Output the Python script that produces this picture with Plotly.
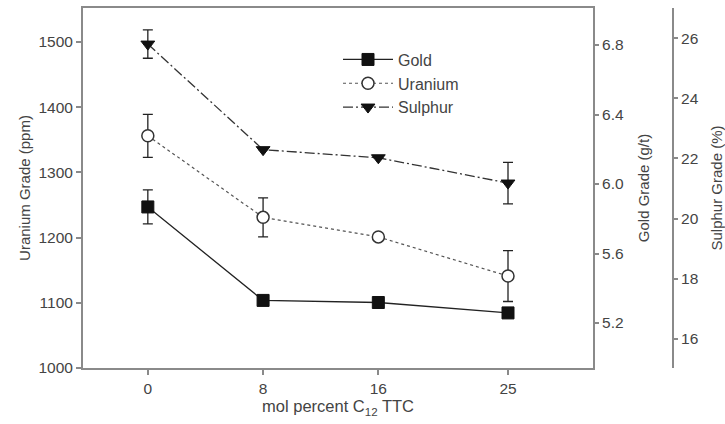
import plotly.graph_objects as go

x_vals = [0, 8, 16, 25]
x_ticks = [0, 8, 16, 25]

gold = [5.868, 5.330, 5.318, 5.258]
gold_err = [0.098, None, None, None]

uranium = [1356, 1231, 1201, 1141]
uranium_err = [33, 30, None, 39]

sulphur = [25.8, 22.29, 22.02, 21.18]
sulphur_err = [0.47, None, None, 0.69]

FONT = "Liberation Sans, Arial, sans-serif"
TXT = "#444444"
AX = "#8a8a8a"
LN = "#222222"
TICK_FS = 15.5
TITLE_FS = 15

fig = go.Figure()

fig.add_trace(go.Scatter(
    x=x_vals, y=gold, name="Gold", yaxis="y2", mode="lines+markers",
    line=dict(color=LN, width=1.3, dash="solid"),
    marker=dict(symbol="square", size=12, color="#111111", line=dict(color="#111111", width=1)),
    error_y=dict(type="data", array=gold_err, visible=True, color=LN, thickness=1.3, width=5),
))
fig.add_trace(go.Scatter(
    x=x_vals, y=uranium, name="Uranium", yaxis="y", mode="lines+markers",
    line=dict(color="#555555", width=1.2, dash="dot"),
    marker=dict(symbol="circle", size=12, color="white", line=dict(color="#333333", width=1.5)),
    error_y=dict(type="data", array=uranium_err, visible=True, color=LN, thickness=1.3, width=5),
))
fig.add_trace(go.Scatter(
    x=x_vals, y=sulphur, name="Sulphur", yaxis="y3", mode="lines+markers",
    line=dict(color="#333333", width=1.3, dash="10px,3px,2px,3px"),
    marker=dict(symbol="triangle-down", size=12, color="#111111", line=dict(color="#111111", width=1)),
    error_y=dict(type="data", array=sulphur_err, visible=True, color=LN, thickness=1.3, width=5),
))

L, R, T, B = 83, 10, 8, 56
W, H = 725, 424
pw = W - L - R
x_end = (593 - L) / pw
s_pos = (673 - L) / pw

fig.update_layout(
    width=W, height=H,
    margin=dict(l=L, r=R, t=T, b=B, autoexpand=False),
    paper_bgcolor="white", plot_bgcolor="white",
    font=dict(family=FONT, size=TICK_FS, color=TXT),
    showlegend=True,
    legend=dict(x=(338 - L) / pw, y=0.904, xanchor="left", yanchor="top",
                bgcolor="rgba(0,0,0,0)", font=dict(size=16, color=TXT),
                itemwidth=50, tracegroupgap=0),
    xaxis=dict(
        domain=[0, x_end], range=[-4.5, 30.9], automargin=False,
        tickmode="array", tickvals=x_ticks, ticktext=[str(t) for t in x_ticks],
        ticks="outside", ticklen=5, tickcolor=AX, tickwidth=1.5,
        showline=True, linecolor=AX, linewidth=2, mirror=True,
        showgrid=False, zeroline=False,
        title=dict(text="mol percent C<sub>12</sub> TTC", font=dict(size=16.5, color=TXT), standoff=5),
        tickfont=dict(size=TICK_FS, color=TXT),
    ),
    yaxis=dict(
        range=[1000, 1552], tickmode="array", tickvals=[1000, 1100, 1200, 1300, 1400, 1500],
        automargin=False,
        ticks="outside", ticklen=5, tickcolor=AX, tickwidth=1.5,
        showline=True, linecolor=AX, linewidth=2,
        showgrid=False, zeroline=False,
        title=dict(text="Uranium Grade (ppm)", font=dict(size=TITLE_FS, color=TXT), standoff=4),
        tickfont=dict(size=TICK_FS, color=TXT),
    ),
    yaxis2=dict(
        overlaying="y", side="right", anchor="x", automargin=False,
        range=[4.941, 7.013], tickmode="array", tickvals=[5.2, 5.6, 6.0, 6.4, 6.8],
        tickformat=".1f",
        ticks="outside", ticklen=4, tickcolor=AX, tickwidth=1.5,
        showline=True, linecolor=AX, linewidth=2,
        showgrid=False, zeroline=False,
        title=dict(text="Gold Grade (g/t)", font=dict(size=TITLE_FS, color=TXT), standoff=15),
        tickfont=dict(size=TICK_FS, color=TXT),
    ),
    yaxis3=dict(
        overlaying="y", side="right", anchor="free", position=s_pos, automargin=False,
        range=[15.03, 27.0], tickmode="array", tickvals=[16, 18, 20, 22, 24, 26],
        ticks="outside", ticklen=4, tickcolor=AX, tickwidth=1.5,
        showline=True, linecolor=AX, linewidth=2,
        showgrid=False, zeroline=False,
        title=dict(text="Sulphur Grade (%)", font=dict(size=TITLE_FS, color=TXT), standoff=13),
        tickfont=dict(size=TICK_FS, color=TXT),
    ),
)

fig.write_html("out.html")
